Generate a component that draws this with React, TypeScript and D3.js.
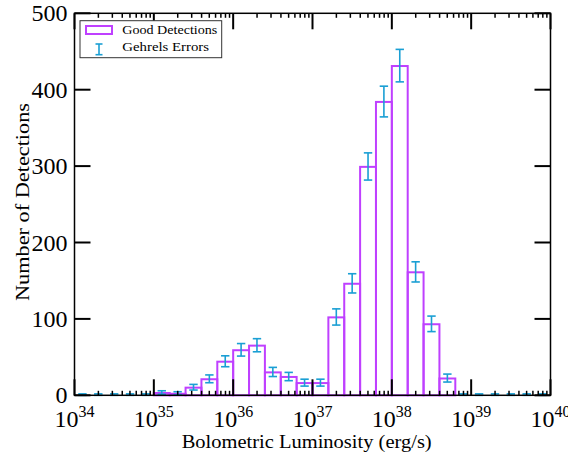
import React from "react";
import * as d3 from "d3";

// Histogram bins (log10 of lower bin edge, bin width 0.2 dex)
const binLowLog = [
  34.0, 34.2, 34.4, 34.6, 34.8, 35.0, 35.2, 35.4, 35.6, 35.8,
  36.0, 36.2, 36.4, 36.6, 36.8, 37.0, 37.2, 37.4, 37.6, 37.8,
  38.0, 38.2, 38.4, 38.6, 38.8, 39.0, 39.2, 39.4, 39.6, 39.8,
];
const binWidthLog = 0.2;
const counts = [
  0, 0, 0, 0, 0, 3, 2, 10, 21, 44,
  59, 65, 30, 24, 16, 16, 102, 146, 299, 384,
  431, 161, 93, 22, 0, 0, 0, 0, 0, 0,
];
const yTicks = [0, 100, 200, 300, 400, 500];
const xMajorExp = [34, 35, 36, 37, 38, 39, 40];

const W = 568;
const H = 459;
const PURPLE = "#bf40ff";
const CYAN = "#1a9fd4";
const FONT = "'Liberation Serif', 'DejaVu Serif', serif";

function gehrels(n: number): [number, number] {
  const up = 1 + Math.sqrt(n + 0.75);
  const lo = n > 0 ? n - n * Math.pow(1 - 1 / (9 * n) - 1 / (3 * Math.sqrt(n)), 3) : 0;
  return [lo, up];
}

export default function App() {
  const x = d3.scaleLog().domain([1e34, 1e40]).range([74.5, 550.5]);
  const y = d3.scaleLinear().domain([0, 500]).range([395.3, 13.3]);
  const [x0, x1] = x.range();
  const [yb, yt] = y.range();
  const minorTicks = x.ticks().filter((t) => {
    const e = Math.log10(t);
    return Math.abs(e - Math.round(e)) > 1e-6;
  });

  const MAJ = 16;
  const MIN = 4.5;

  return (
    <svg width={W} height={H} style={{ position: "absolute", left: 0, top: 0 }}>
      <rect x={0} y={0} width={W} height={H} fill="white" />
      {/* bars */}
      {binLowLog.map((lg, i) => {
        const xa = x(Math.pow(10, lg));
        const xb = x(Math.pow(10, lg + binWidthLog));
        const yv = y(counts[i]);
        return (
          <rect
            key={"b" + i}
            x={xa}
            y={yv}
            width={xb - xa}
            height={yb - yv}
            fill="none"
            stroke={PURPLE}
            strokeWidth={2}
          />
        );
      })}
      {/* error bars */}
      {binLowLog.map((lg, i) => {
        const xc = x(Math.pow(10, lg + binWidthLog / 2));
        const n = counts[i];
        const [lo, up] = gehrels(n);
        const ya = y(n - lo);
        const yc = y(n + up);
        return (
          <g key={"e" + i} stroke={CYAN} strokeWidth={1.6}>
            <line x1={xc} x2={xc} y1={ya} y2={yc} />
            <line x1={xc - 4.2} x2={xc + 4.2} y1={ya} y2={ya} />
            <line x1={xc - 4.2} x2={xc + 4.2} y1={yc} y2={yc} />
          </g>
        );
      })}
      {/* frame */}
      <rect x={x0} y={yt} width={x1 - x0} height={yb - yt} fill="none" stroke="black" strokeWidth={1.5} />
      {/* x ticks */}
      {xMajorExp.map((e) => {
        const xv = x(Math.pow(10, e));
        return (
          <g key={"xm" + e} stroke="black" strokeWidth={2}>
            <line x1={xv} x2={xv} y1={yb} y2={yb - MAJ} />
            <line x1={xv} x2={xv} y1={yt} y2={yt + MAJ} />
          </g>
        );
      })}
      {minorTicks.map((t, i) => {
        const xv = x(t);
        return (
          <g key={"xn" + i} stroke="black" strokeWidth={1.5}>
            <line x1={xv} x2={xv} y1={yb} y2={yb - MIN} />
            <line x1={xv} x2={xv} y1={yt} y2={yt + MIN} />
          </g>
        );
      })}
      {/* y ticks */}
      {yTicks.map((v) => {
        const yv = y(v);
        return (
          <g key={"y" + v}>
            <line x1={x0} x2={x0 + MAJ} y1={yv} y2={yv} stroke="black" strokeWidth={2} />
            <line x1={x1} x2={x1 - MAJ} y1={yv} y2={yv} stroke="black" strokeWidth={2} />
            <text
              x={67.5}
              y={yv}
              dy="0.34em"
              textAnchor="end"
              fontFamily={FONT}
              fontSize={24}
              fill="black"
            >
              {v}
            </text>
          </g>
        );
      })}
      {/* x tick labels */}
      {xMajorExp.map((e) => (
        <text
          key={"xl" + e}
          x={x(Math.pow(10, e))}
          y={426.7}
          textAnchor="middle"
          fontFamily={FONT}
          fontSize={24}
          fill="black"
        >
          <tspan>10</tspan>
          <tspan dy={-9.7} fontSize={16}>
            {e}
          </tspan>
        </text>
      ))}
      {/* axis labels */}
      <text
        x={306.7}
        y={448.3}
        textAnchor="middle"
        fontFamily={FONT}
        fontSize={19}
        textLength={250}
        lengthAdjust="spacingAndGlyphs"
        fill="black"
      >
        Bolometric Luminosity (erg/s)
      </text>
      <text
        transform="translate(29,202) rotate(-90)"
        textAnchor="middle"
        fontFamily={FONT}
        fontSize={19}
        textLength={198}
        lengthAdjust="spacingAndGlyphs"
        fill="black"
      >
        Number of Detections
      </text>
      {/* legend */}
      <rect x={80} y={20.7} width={141.7} height={37} fill="white" stroke="#333" strokeWidth={1} />
      <rect x={86} y={26} width={26} height={8} fill="none" stroke={PURPLE} strokeWidth={2} />
      <text x={122.3} y={34} fontFamily={FONT} fontSize={13} textLength={95} lengthAdjust="spacingAndGlyphs" fill="black">
        Good Detections
      </text>
      <g stroke={CYAN} strokeWidth={1.6}>
        <line x1={99} x2={99} y1={44} y2={54.7} />
        <line x1={95.5} x2={102.5} y1={44} y2={44} />
        <line x1={95.5} x2={102.5} y1={54.7} y2={54.7} />
      </g>
      <text x={122.3} y={51.3} fontFamily={FONT} fontSize={13} textLength={86.7} lengthAdjust="spacingAndGlyphs" fill="black">
        Gehrels Errors
      </text>
    </svg>
  );
}
